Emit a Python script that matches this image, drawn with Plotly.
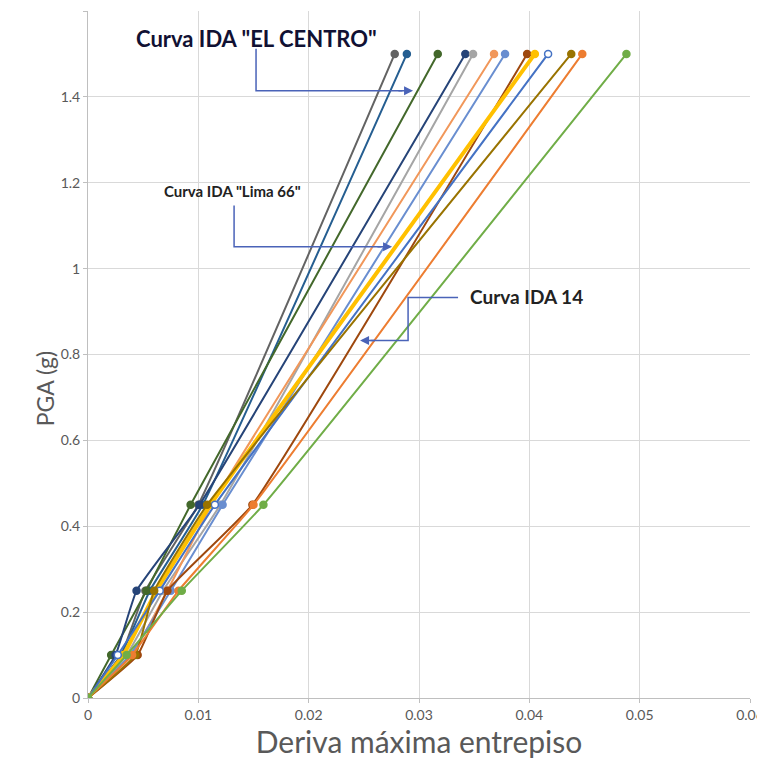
import plotly.graph_objects as go

# PGA levels (g) for every IDA curve
pga = [0, 0.1, 0.25, 0.45, 1.5]

# maximum interstory drift per curve
series_names = [
    "IDA 1", "IDA 2", "IDA 3", "IDA 4", "IDA 5", "IDA 6", "IDA 7",
    "IDA 8", "IDA 9", "IDA 10", "IDA 11", "IDA 12", "IDA 13",
]
drift_1 = [0, 0.0030, 0.0052, 0.0100, 0.0278]
drift_2 = [0, 0.0030, 0.0056, 0.0104, 0.0289]
drift_3 = [0, 0.0021, 0.0053, 0.0093, 0.0317]
drift_4 = [0, 0.0025, 0.0044, 0.0101, 0.0342]
drift_5 = [0, 0.0035, 0.0068, 0.0120, 0.0349]
drift_6 = [0, 0.0040, 0.0072, 0.0112, 0.0368]
drift_7 = [0, 0.0038, 0.0075, 0.0122, 0.0378]
drift_8 = [0, 0.0045, 0.0072, 0.0149, 0.0398]
drift_9 = [0, 0.0032, 0.0062, 0.0111, 0.0405]
drift_10 = [0, 0.0027, 0.0065, 0.0115, 0.0417]
drift_11 = [0, 0.0043, 0.0060, 0.0108, 0.0438]
drift_12 = [0, 0.0040, 0.0082, 0.0150, 0.0448]
drift_13 = [0, 0.0035, 0.0085, 0.0159, 0.0488]

drifts = [drift_1, drift_2, drift_3, drift_4, drift_5, drift_6, drift_7,
          drift_8, drift_9, drift_10, drift_11, drift_12, drift_13]

colors = ["#636363", "#255E91", "#43682B", "#264478", "#A5A5A5", "#F1975A", "#698ED0",
          "#9E480E", "#FFC000", "#4472C4", "#997300", "#ED7D31", "#70AD47"]

fig = go.Figure()

for name, d, c in zip(series_names, drifts, colors):
    width = 4 if c == "#FFC000" else 2
    fill = "white" if c == "#4472C4" else c
    fig.add_trace(go.Scatter(
        name = name,
        x = d,
        y = pga,
        mode = "lines+markers",
        line = {"color": c, "width": width, "shape": "spline", "smoothing": 0.35},
        marker = {"color": fill, "size": 7, "line": {"color": c, "width": 1.5}},
        showlegend = False,
    ))

arrow_col = "#4A63B8"

# callout leaders (data coords)
fig.add_shape(type = "path", path = "M 0.01523 1.512 L 0.01523 1.414 L 0.0285 1.414",
              line = {"color": arrow_col, "width": 1.5}, xref = "x", yref = "y")
fig.add_shape(type = "path", path = "M 0.01324 1.147 L 0.01324 1.051 L 0.0266 1.051",
              line = {"color": arrow_col, "width": 1.5}, xref = "x", yref = "y")
fig.add_shape(type = "path", path = "M 0.03354 0.9326 L 0.02901 0.9326 L 0.02901 0.8326 L 0.0256 0.8326",
              line = {"color": arrow_col, "width": 1.5}, xref = "x", yref = "y")

for head, tail in [((0.02946, 1.414), (0.0280, 1.414)),
                   ((0.02756, 1.051), (0.0261, 1.051)),
                   ((0.02466, 0.8326), (0.0261, 0.8326))]:
    fig.add_annotation(x = head[0], y = head[1], ax = tail[0], ay = tail[1],
                       xref = "x", yref = "y", axref = "x", ayref = "y",
                       text = "", showarrow = True, arrowhead = 2, arrowsize = 1.2,
                       arrowwidth = 1.5, arrowcolor = arrow_col)

fig.add_annotation(x = 0.01523, y = 1.537, xref = "x", yref = "y", showarrow = False,
                   text = "<b>Curva IDA \"EL CENTRO\"</b>",
                   font = {"family": "Lato", "size": 22, "color": "#111133"})
fig.add_annotation(x = 0.01306, y = 1.181, xref = "x", yref = "y", showarrow = False,
                   text = "<b>Curva IDA \"Lima 66\"</b>",
                   font = {"family": "Lato", "size": 15, "color": "#222222"})
fig.add_annotation(x = 0.0397, y = 0.935, xref = "x", yref = "y", showarrow = False,
                   text = "<b>Curva IDA 14</b>",
                   font = {"family": "Lato", "size": 19, "color": "#222222"})

# y title sits a bit below the middle in the original
fig.add_annotation(x = -0.09, y = 0.45, xref = "paper", yref = "paper", showarrow = False,
                   text = "PGA (g)", textangle = -90,
                   font = {"family": "Lato", "size": 23, "color": "#595959"})

# page body adds an 8px offset, so the figure is a little smaller than the window
fig.update_layout(
    width = 757, height = 760,
    margin = {"l": 80, "r": 15, "t": 3, "b": 70},
    paper_bgcolor = "white", plot_bgcolor = "white",
    font = {"family": "Lato", "color": "#595959", "size": 14},
)
fig.update_xaxes(
    range = [0, 0.06], dtick = 0.01, tick0 = 0, automargin = False,
    showgrid = True, gridcolor = "#D9D9D9", zeroline = False,
    showline = True, linecolor = "#BFBFBF",
    ticks = "outside", ticklen = 4, tickcolor = "#BFBFBF",
    title = {"text": "Deriva máxima entrepiso", "font": {"size": 30, "color": "#595959"}, "standoff": 8},
)
fig.update_yaxes(
    range = [0, 1.6], dtick = 0.2, tick0 = 0, automargin = False,
    showgrid = True, gridcolor = "#D9D9D9", zeroline = False,
    showline = True, linecolor = "#BFBFBF",
    ticks = "outside", ticklen = 4, tickcolor = "#BFBFBF",
)

fig.write_html("out.html")
